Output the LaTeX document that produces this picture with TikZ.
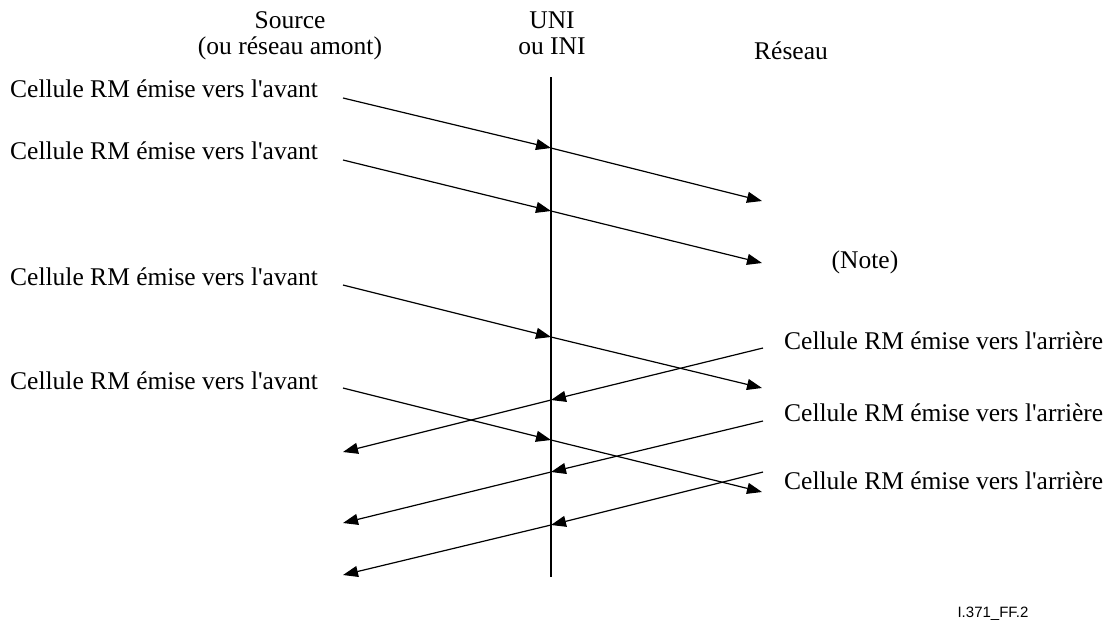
\documentclass[tikz,border=0pt]{standalone}
\usepackage{fontspec}
\setmainfont{Liberation Serif}[Ligatures=TeXOff]
\newfontfamily\figidfont{Liberation Sans}
\usetikzlibrary{arrows.meta}
\begin{document}
\begin{tikzpicture}[x=1pt,y=-1pt,
  font=\fontsize{25.5}{29}\selectfont,
  lbl/.style={inner sep=0pt, anchor=base west},
  hd/.style={inner sep=0pt, anchor=base},
  msg/.style={line width=1.2pt, -{Triangle[length=15pt,width=11pt]}},
  axis/.style={line width=1.2pt}]
\useasboundingbox (0,0) rectangle (1111,625);

% headers
\node[hd] (src1) at (290,28) {Source};
\node[hd] (src2) at (290,54) {(ou réseau amont)};
\node[hd] (uni1) at (552,28) {UNI};
\node[hd] (uni2) at (552,54) {ou INI};
\node[hd] (net)  at (791,59) {Réseau};

% interface line
\coordinate (u0) at (551,77);
\coordinate (u1) at (551,577);
\draw[axis] (u0) -- (u1);

% forward labels
\node[lbl] (fl1) at (10,97)  {Cellule RM émise vers l'avant};
\node[lbl] (fl2) at (10,159) {Cellule RM émise vers l'avant};
\node[lbl] (fl3) at (10,285) {Cellule RM émise vers l'avant};
\node[lbl] (fl4) at (10,389) {Cellule RM émise vers l'avant};

% backward labels
\node[lbl] (bl1) at (784,349) {Cellule RM émise vers l'arrière};
\node[lbl] (bl2) at (784,421) {Cellule RM émise vers l'arrière};
\node[lbl] (bl3) at (784,489) {Cellule RM émise vers l'arrière};

\node[hd] (note) at (865,268) {(Note)};
\node[hd, font=\figidfont\fontsize{15}{18}\selectfont] (figid) at (993,617) {I.371\_FF.2};

% forward cells
\coordinate (f1s) at (343,98);  \coordinate (f1m) at (551,148); \coordinate (f1e) at (762,201);
\coordinate (f2s) at (343,160); \coordinate (f2m) at (551,211); \coordinate (f2e) at (762,263);
\coordinate (f3s) at (343,285); \coordinate (f3m) at (551,337); \coordinate (f3e) at (762,388);
\coordinate (f4s) at (343,388); \coordinate (f4m) at (551,440); \coordinate (f4e) at (762,492);
\foreach \i in {1,...,4}{
  \draw[msg] (f\i s) -- (f\i m);
  \draw[msg] (f\i m) -- (f\i e);
}

% backward cells
\coordinate (b1s) at (763,348); \coordinate (b1m) at (551,400); \coordinate (b1e) at (343,452);
\coordinate (b2s) at (763,421); \coordinate (b2m) at (551,472); \coordinate (b2e) at (343,523);
\coordinate (b3s) at (763,472); \coordinate (b3m) at (551,525); \coordinate (b3e) at (343,575);
\foreach \i in {1,...,3}{
  \draw[msg] (b\i s) -- (b\i m);
  \draw[msg] (b\i m) -- (b\i e);
}
\end{tikzpicture}
\end{document}
